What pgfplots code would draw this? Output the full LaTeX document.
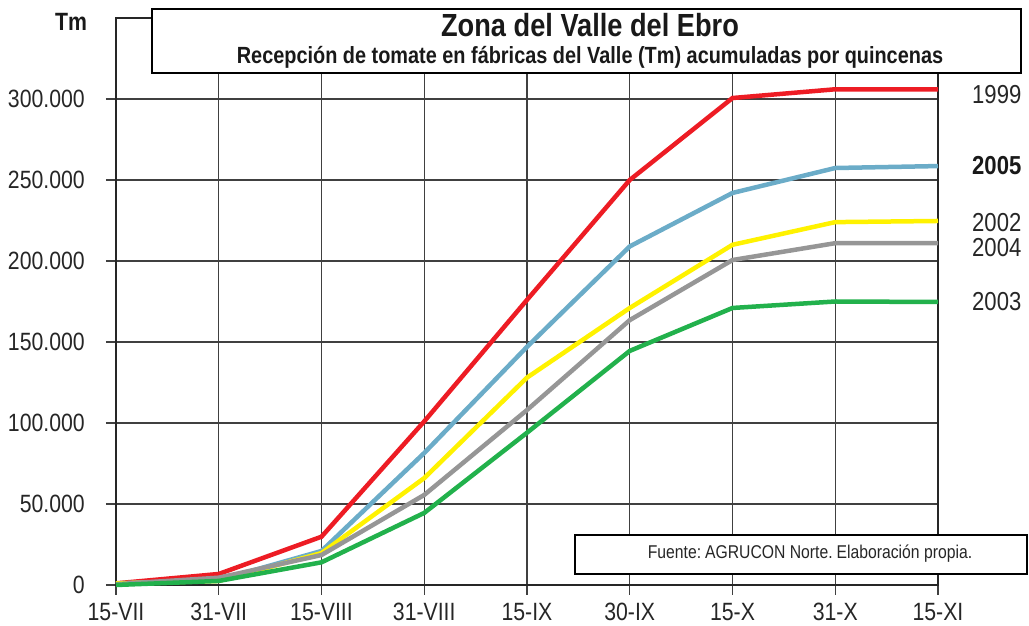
\documentclass[border=0pt]{standalone}
\usepackage{fontspec}
\setmainfont{Liberation Sans}[FakeStretch=0.85]
\usepackage{pgfplots}
\pgfplotsset{compat=1.18}
\definecolor{cred}{RGB}{237,28,36}
\definecolor{cblue}{RGB}{107,172,200}
\definecolor{cyellow}{RGB}{255,242,0}
\definecolor{cgray}{RGB}{150,150,150}
\definecolor{cgreen}{RGB}{34,177,76}
\begin{document}
\begin{tikzpicture}[x=1pt,y=1pt]
\useasboundingbox (0,0) rectangle (1029,626);
\begin{axis}[
  at={(116pt,41pt)}, anchor=south west,
  scale only axis, width=822pt, height=567pt,
  xmin=0, xmax=8, ymin=0, ymax=350000,
  scaled y ticks=false, scaled x ticks=false,
  xtick={0,...,8},
  xticklabels={15-VII,31-VII,15-VIII,31-VIII,15-IX,30-IX,15-X,31-X,15-XI},
  ytick={0,50000,100000,150000,200000,250000,300000},
  yticklabels={0,50.000,100.000,150.000,200.000,250.000,300.000},
  grid=major,
  major grid style={line width=1.3pt, color=black!75},
  axis line style={line width=1.3pt, color=black!85},
  tick style={line width=1.3pt, color=black!75},
  tick align=outside, major tick length=10pt,
  xtick pos=bottom, ytick pos=left,
  tick label style={font=\fontsize{25}{28}\selectfont, text=black!85},
  xticklabel style={anchor=north, inner sep=0pt, yshift=-8pt},
  yticklabel style={anchor=east, inner sep=0pt, xshift=-21pt},
  clip=false,
]
\addplot[cred, line width=4.5pt] coordinates {(0,1000)(1,6800)(2,29800)(3,101000)(4,176000)(5,250000)(6,300600)(7,306000)(8,306000)};
\addplot[cblue, line width=4.5pt] coordinates {(0,1000)(1,3000)(2,21000)(3,81500)(4,147000)(5,209000)(6,242000)(7,257400)(8,258600)};
\addplot[cyellow, line width=4.5pt] coordinates {(0,1000)(1,2500)(2,19700)(3,66000)(4,128000)(5,171000)(6,210000)(7,224000)(8,224700)};
\addplot[cgray, line width=4.5pt] coordinates {(0,500)(1,4500)(2,18500)(3,55600)(4,108000)(5,163500)(6,200600)(7,211000)(8,211000)};
\addplot[cgreen, line width=4.5pt] coordinates {(0,0)(1,2500)(2,14000)(3,44500)(4,94000)(5,144500)(6,171000)(7,175000)(8,174700)};
\end{axis}
% title box
\draw[line width=2.7pt, fill=white] (152,553) rectangle (1021,617);
\node[font=\bfseries\fontsize{32}{36}\selectfont, text=black!90] at (590,601) {Zona del Valle del Ebro};
\node[font=\bfseries\fontsize{23.4}{26}\selectfont, text=black!90] at (590,569) {Recepción de tomate en fábricas del Valle (Tm) acumuladas por quincenas};
% source box
\draw[line width=2pt, fill=white] (575,52) rectangle (1027,91);
\node[font=\fontsize{18.5}{22}\selectfont, text=black!85] at (810,72) {Fuente:\kern4pt AGRUCON Norte.\kern4pt Elaboración propia.};
% Tm
\node[font=\bfseries\fontsize{25}{28}\selectfont, text=black!90] at (71,604) {Tm};
% series labels
\node[anchor=west, inner sep=0pt, font=\fontsize{26}{28}\selectfont, text=black!85] at (972,531) {1999};
\node[anchor=west, inner sep=0pt, font=\bfseries\fontsize{26}{28}\selectfont, text=black!90] at (972,460) {2005};
\node[anchor=west, inner sep=0pt, font=\fontsize{26}{28}\selectfont, text=black!85] at (972,403) {2002};
\node[anchor=west, inner sep=0pt, font=\fontsize{26}{28}\selectfont, text=black!85] at (972,378) {2004};
\node[anchor=west, inner sep=0pt, font=\fontsize{26}{28}\selectfont, text=black!85] at (972,324) {2003};
\end{tikzpicture}
\end{document}
